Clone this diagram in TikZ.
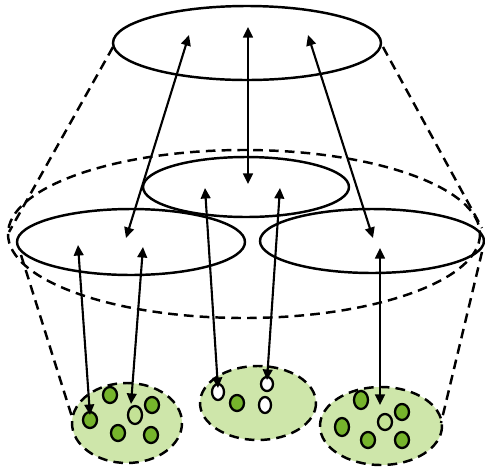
\documentclass[tikz,border=0pt]{standalone}
\usetikzlibrary{arrows.meta}
\definecolor{poolgreen}{RGB}{206,230,170}
\definecolor{cellgreen}{RGB}{118,180,44}
\definecolor{palegreen}{RGB}{196,226,150}
\begin{document}
\begin{tikzpicture}[x=0.02cm, y=-0.02cm,
    ring/.style={line width=1.4pt, black},
    dashring/.style={line width=1.4pt, black, dash pattern=on 5.5pt off 3.5pt},
    pool/.style={dashring, fill=poolgreen},
    cell/.style={line width=1.3pt, black, fill=cellgreen},
    palecell/.style={cell, fill=palegreen},
    emptycell/.style={cell, fill=white},
    link/.style={line width=1.2pt, {Triangle[length=6pt,width=5.5pt]}-{Triangle[length=6pt,width=5.5pt]}}]
    \useasboundingbox (0,0) rectangle (485,468);

    % pools at the bottom
    \draw[pool] (127,423) ellipse (55 and 40);
    \draw[pool] (258,403) ellipse (58 and 37);
    \draw[pool] (381,426) ellipse (61 and 39);

    % cells, left pool
    \draw[cell] (90,420) ellipse (7 and 8);
    \draw[cell] (110,395) ellipse (7 and 8);
    \draw[palecell] (135,415) ellipse (7 and 9);
    \draw[cell] (152,405) ellipse (7 and 8);
    \draw[cell] (118,433) ellipse (7 and 8);
    \draw[cell] (151,435) ellipse (7 and 8);
    % cells, middle pool
    \draw[emptycell] (218,392) ellipse (6 and 8);
    \draw[cell] (237,403) ellipse (7 and 8);
    \draw[emptycell] (265,405) ellipse (6 and 8);
    \draw[emptycell] (267,384) ellipse (6 and 7);
    % cells, right pool
    \draw[cell] (361,400) ellipse (7 and 9);
    \draw[cell] (342,427) ellipse (7 and 9);
    \draw[palecell] (385,422) ellipse (7 and 8);
    \draw[cell] (402,412) ellipse (7 and 8);
    \draw[cell] (368,440) ellipse (7 and 8);
    \draw[cell] (402,440) ellipse (7 and 8);

    % cone
    \draw[dashring] (244,234) ellipse (236 and 84);
    \draw[dashring] (113,47) -- (9,232);
    \draw[dashring] (383,47) -- (482,228);
    \draw[dashring] (21,255) -- (72,417);
    \draw[dashring] (482,252) -- (441,423);

    % levels
    \draw[ring] (247,43) ellipse (134 and 37);
    \draw[ring] (246,187) ellipse (103 and 30);
    \draw[ring] (131,242) ellipse (114 and 33);
    \draw[ring] (372,241) ellipse (112 and 32);

    % link ends
    \coordinate (topC) at (248,27);
    \coordinate (topL) at (189,35);
    \coordinate (topR) at (308,35);
    \coordinate (midC) at (248,184);
    \coordinate (midL) at (205,188);
    \coordinate (midR) at (280,188);
    \coordinate (leftU) at (126,238);
    \coordinate (leftA) at (78,245);
    \coordinate (leftB) at (143,247);
    \coordinate (rightU) at (373,238);
    \coordinate (rightA) at (380,248);
    \coordinate (cellA) at (90,415);
    \coordinate (cellB) at (131,404);
    \coordinate (cellC) at (218,388);
    \coordinate (cellD) at (267,380);
    \coordinate (cellE) at (380,405);

    \draw[link] (topC) -- (midC);
    \draw[link] (topL) -- (leftU);
    \draw[link] (topR) -- (rightU);
    \draw[link] (leftA) -- (cellA);
    \draw[link] (leftB) -- (cellB);
    \draw[link] (midL) -- (cellC);
    \draw[link] (midR) -- (cellD);
    \draw[link] (rightA) -- (cellE);
\end{tikzpicture}
\end{document}
